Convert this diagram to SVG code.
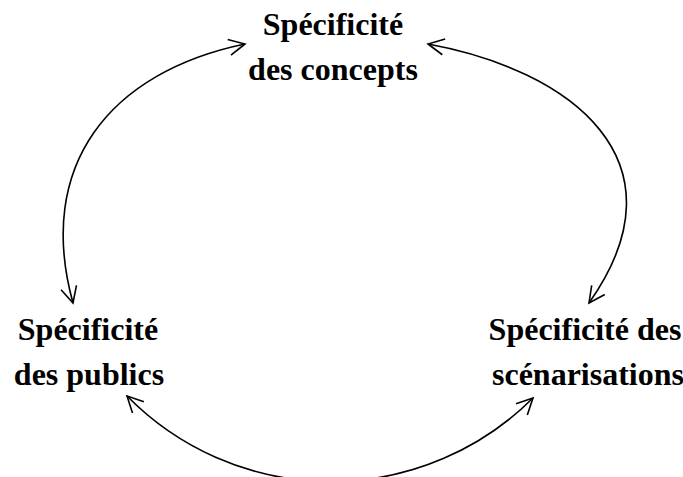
<svg xmlns="http://www.w3.org/2000/svg" width="683" height="477" viewBox="0 0 683 477">
<style>
.t{font-family:"Liberation Serif","Times New Roman",serif;font-weight:bold;font-size:32px;fill:#000;text-anchor:middle}
.c{fill:none;stroke:#000;stroke-width:1.6}
</style>
<defs>
<marker id="a" viewBox="0 0 20 20" refX="18" refY="10" markerWidth="20" markerHeight="20" markerUnits="userSpaceOnUse" orient="auto-start-reverse">
<path d="M2,2 L18,10 L2,18" fill="none" stroke="#000" stroke-width="1.6"/>
</marker>
</defs>
<rect width="683" height="477" fill="#fff"/>
<g id="connectors">
<path class="c" d="M245,44 C110,72 35,165 73,303" marker-start="url(#a)" marker-end="url(#a)"/>
<path class="c" d="M428,44 C570,70 690,160 589,303" marker-start="url(#a)" marker-end="url(#a)"/>
<path class="c" d="M127,396 A286,286 0 0 0 533,398" marker-start="url(#a)" marker-end="url(#a)"/>
</g>
<g id="concepts">
<text class="t" x="333" y="35">Spécificité</text>
<text class="t" x="333" y="80">des concepts</text>
</g>
<g id="publics">
<text class="t" x="88" y="340">Spécificité</text>
<text class="t" x="89" y="385">des publics</text>
</g>
<g id="scenarisations">
<text class="t" x="585" y="340">Spécificité des</text>
<text class="t" x="588" y="385">scénarisations</text>
</g>
</svg>
